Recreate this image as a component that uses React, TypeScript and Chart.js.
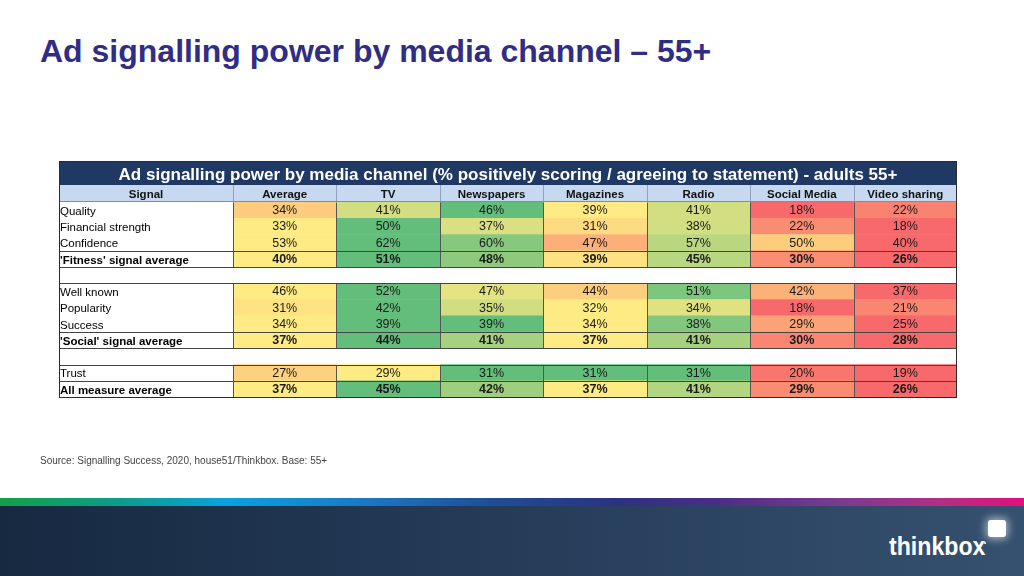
import React, { useEffect, useRef } from 'react';
import { Chart, registerables } from 'chart.js';

Chart.register(...registerables);

const FONT = "'Liberation Sans', Arial, Helvetica, sans-serif";

// ---- Data ----
const pageTitle = 'Ad signalling power by media channel – 55+';
const tableTitle =
  'Ad signalling power by media channel (% positively scoring / agreeing to statement) - adults 55+';
const signalHeader = 'Signal';
const sourceNote = 'Source: Signalling Success, 2020, house51/Thinkbox. Base: 55+';

const rowLabels = [
  'Quality',
  'Financial strength',
  'Confidence',
  "'Fitness' signal average",
  '',
  'Well known',
  'Popularity',
  'Success',
  "'Social' signal average",
  '',
  'Trust',
  'All measure average',
];
const boldRows = [3, 8, 11];
const channels = ['Average', 'TV', 'Newspapers', 'Magazines', 'Radio', 'Social Media', 'Video sharing'];

const average = [34, 33, 53, 40, null, 46, 31, 34, 37, null, 27, 37];
const tv = [41, 50, 62, 51, null, 52, 42, 39, 44, null, 29, 45];
const newspapers = [46, 37, 60, 48, null, 47, 35, 39, 41, null, 31, 42];
const magazines = [39, 31, 47, 39, null, 44, 32, 34, 37, null, 31, 37];
const radio = [41, 38, 57, 45, null, 51, 34, 38, 41, null, 31, 41];
const socialMedia = [18, 22, 50, 30, null, 42, 18, 29, 30, null, 20, 29];
const videoSharing = [22, 18, 40, 26, null, 37, 21, 25, 28, null, 19, 26];

const series: (number | null)[][] = [average, tv, newspapers, magazines, radio, socialMedia, videoSharing];

// ---- Colour scale (per row, 3-colour red / yellow / green) ----
const LOW = [248, 105, 107];
const MID = [255, 235, 132];
const HIGH = [99, 190, 123];

function mix(a: number[], b: number[], t: number) {
  return a.map((v, i) => Math.round(v + (b[i] - v) * t));
}

function cellColor(row: number, col: number): string {
  const vals = series.map((s) => s[row]) as number[];
  const v = vals[col];
  const sorted = [...vals].sort((a, b) => a - b);
  const min = sorted[0];
  const max = sorted[sorted.length - 1];
  const pos = (sorted.length - 1) * 0.5;
  const lo = Math.floor(pos);
  const hi = Math.ceil(pos);
  const mid = sorted[lo] + (sorted[hi] - sorted[lo]) * (pos - lo);
  let c: number[];
  if (v <= mid) c = mid === min ? MID : mix(LOW, MID, (v - min) / (mid - min));
  else c = max === mid ? MID : mix(MID, HIGH, (v - mid) / (max - mid));
  return `rgb(${c.join(',')})`;
}

const TABLE_LEFT = 59;
const TITLE_TOP = 161;

const tablePlugin = {
  id: 'tableDecor',
  beforeDraw(chart: any) {
    const { ctx, chartArea } = chart;
    const x2 = chart.scales.x2;
    const right = chartArea.right;
    ctx.save();
    // title bar
    ctx.fillStyle = '#1f3864';
    ctx.fillRect(TABLE_LEFT, TITLE_TOP, right - TABLE_LEFT, x2.top - TITLE_TOP);
    ctx.fillStyle = '#ffffff';
    ctx.font = `bold 17px ${FONT}`;
    ctx.textAlign = 'center';
    ctx.textBaseline = 'alphabetic';
    ctx.fillText(tableTitle, (TABLE_LEFT + right) / 2, x2.top - 5);
    // header row
    ctx.fillStyle = '#c6d9f1';
    ctx.fillRect(TABLE_LEFT, x2.top, right - TABLE_LEFT, x2.bottom - x2.top);
    ctx.fillStyle = '#111111';
    ctx.font = `bold 11.5px ${FONT}`;
    ctx.textBaseline = 'middle';
    ctx.fillText(signalHeader, (TABLE_LEFT + chartArea.left) / 2, (x2.top + x2.bottom) / 2 + 1);
    ctx.restore();
  },
  afterDatasetsDraw(chart: any) {
    const { ctx } = chart;
    const xs = chart.scales.x;
    const ys = chart.scales.y;
    ctx.save();
    ctx.textAlign = 'center';
    ctx.textBaseline = 'middle';
    ctx.fillStyle = '#1a1a1a';
    series.forEach((vals, col) => {
      vals.forEach((v, row) => {
        if (v == null) return;
        ctx.font = `${boldRows.includes(row) ? 'bold ' : ''}12.5px ${FONT}`;
        ctx.fillText(`${v}%`, xs.getPixelForValue(col + 0.5), ys.getPixelForValue(row) + 0.5);
      });
    });
    ctx.restore();
  },
  afterDraw(chart: any) {
    const { ctx, chartArea } = chart;
    const xs = chart.scales.x;
    const ys = chart.scales.y;
    const x2 = chart.scales.x2;
    const rowH = (chartArea.bottom - chartArea.top) / rowLabels.length;
    const rowTop = (i: number) => Math.round(ys.getPixelForValue(i) - rowH / 2) + 0.5;
    const L = TABLE_LEFT + 0.5;
    const R = Math.round(chartArea.right) - 0.5;
    ctx.save();
    ctx.lineWidth = 1;
    // header vertical separators
    ctx.strokeStyle = '#8ea3bf';
    for (let j = 0; j < channels.length; j++) {
      const x = Math.round(xs.getPixelForValue(j)) + 0.5;
      ctx.beginPath();
      ctx.moveTo(x, x2.top);
      ctx.lineTo(x, x2.bottom);
      ctx.stroke();
    }
    // data vertical lines within groups
    const groups = [
      [0, 3],
      [5, 8],
      [10, 11],
    ];
    ctx.strokeStyle = '#555555';
    groups.forEach(([a, b]) => {
      const top = rowTop(a);
      const bottom = rowTop(b) + rowH;
      for (let j = 0; j < channels.length; j++) {
        const x = Math.round(xs.getPixelForValue(j)) + 0.5;
        ctx.beginPath();
        ctx.moveTo(x, top);
        ctx.lineTo(x, bottom);
        ctx.stroke();
      }
    });
    // horizontal lines
    ctx.strokeStyle = '#7d8ea6';
    ctx.beginPath();
    ctx.moveTo(L, Math.round(x2.bottom) - 0.5);
    ctx.lineTo(R, Math.round(x2.bottom) - 0.5);
    ctx.stroke();
    ctx.strokeStyle = '#444444';
    [3, 4, 5, 8, 9, 10, 11].forEach((i) => {
      const y = rowTop(i);
      ctx.beginPath();
      ctx.moveTo(L, y);
      ctx.lineTo(R, y);
      ctx.stroke();
    });
    // outer border
    ctx.strokeStyle = '#2b2b2b';
    ctx.strokeRect(L, TITLE_TOP + 0.5, R - L, Math.round(chartArea.bottom) - TITLE_TOP);
    ctx.restore();
  },
};

function HeatTable() {
  const ref = useRef<HTMLCanvasElement | null>(null);
  useEffect(() => {
    if (!ref.current) return;
    const chart = new Chart(ref.current, {
      type: 'bar',
      data: {
        labels: rowLabels,
        datasets: series.map((vals, col) => ({
          label: channels[col],
          data: vals.map((v) => (v == null ? null : [col, col + 1])) as any,
          backgroundColor: (c: any) => (series[col][c.dataIndex] == null ? 'rgba(0,0,0,0)' : cellColor(c.dataIndex, col)),
          borderWidth: 0,
          barPercentage: 1,
          categoryPercentage: 1,
          grouped: false,
        })),
      },
      options: {
        indexAxis: 'y',
        responsive: false,
        animation: false,
        events: [],
        layout: { padding: { left: 60, right: 67, top: 185, bottom: 179 } },
        plugins: {
          legend: { display: false },
          tooltip: { enabled: false },
          title: { display: false },
        },
        scales: {
          x: { type: 'linear', min: 0, max: 7, display: false },
          x2: {
            type: 'category',
            labels: channels,
            position: 'top',
            offset: true,
            grid: { display: false, drawTicks: false },
            border: { display: false },
            ticks: {
              autoSkip: false,
              maxRotation: 0,
              padding: 0,
              color: '#111111',
              font: { family: FONT, size: 11.5, weight: 'bold' },
            },
            afterFit: (s: any) => {
              s.height = 17;
            },
          },
          y: {
            type: 'category',
            offset: true,
            grid: { display: false, drawTicks: false },
            border: { display: false },
            ticks: {
              autoSkip: false,
              crossAlign: 'far',
              padding: 0,
              labelOffset: 1.5,
              color: '#000000',
              font: (c: any) => ({
                family: FONT,
                size: 11.5,
                weight: boldRows.includes(c.index) ? 'bold' : 'normal',
              }),
            },
            afterFit: (s: any) => {
              s.width = 173;
            },
          },
        },
      } as any,
      plugins: [tablePlugin],
    });
    return () => chart.destroy();
  }, []);
  return <canvas ref={ref} width={1024} height={576} style={{ position: 'absolute', left: 0, top: 0 }} />;
}

export default function App() {
  return (
    <div
      style={{
        position: 'absolute',
        left: 0,
        top: 0,
        width: 1024,
        height: 576,
        overflow: 'hidden',
        background: '#ffffff',
        fontFamily: FONT,
      }}
    >
      <div
        style={{
          position: 'absolute',
          left: 40,
          top: 35,
          fontSize: 32,
          lineHeight: '32px',
          fontWeight: 'bold',
          color: '#302d84',
          whiteSpace: 'nowrap',
        }}
      >
        {pageTitle}
      </div>
      <HeatTable />
      <div
        style={{
          position: 'absolute',
          left: 40,
          top: 456,
          fontSize: 10,
          lineHeight: '10px',
          color: '#444444',
          whiteSpace: 'nowrap',
        }}
      >
        {sourceNote}
      </div>
      <div
        style={{
          position: 'absolute',
          left: 0,
          top: 498,
          width: 1024,
          height: 8,
          background:
            'linear-gradient(90deg, #12a04a 0%, #0d9c8c 12%, #0aa2df 22%, #1a78c4 36%, #1f4d98 48%, #2b3284 60%, #4a2e85 70%, #7a3b90 82%, #b52d86 92%, #e2107b 100%)',
        }}
      />
      <div
        style={{
          position: 'absolute',
          left: 0,
          top: 506,
          width: 1024,
          height: 70,
          background: 'linear-gradient(90deg, #172941 0%, #243a57 45%, #35516f 100%)',
        }}
      />
      <div
        style={{
          position: 'absolute',
          left: 889,
          top: 533,
          fontSize: 26,
          lineHeight: '26px',
          fontWeight: 'bold',
          color: '#ffffff',
          transform: 'scaleX(0.89)',
          transformOrigin: 'left top',
          whiteSpace: 'nowrap',
        }}
      >
        thinkbox
      </div>
      <div
        style={{
          position: 'absolute',
          left: 988,
          top: 520,
          width: 18,
          height: 17,
          borderRadius: 3,
          background: '#ffffff',
          boxShadow: '0 0 8px 2px rgba(255,255,255,0.6)',
        }}
      />
      <div
        style={{
          position: 'absolute',
          left: 984,
          top: 542,
          width: 2,
          height: 2,
          borderRadius: 1,
          background: '#ffffff',
        }}
      />
    </div>
  );
}
